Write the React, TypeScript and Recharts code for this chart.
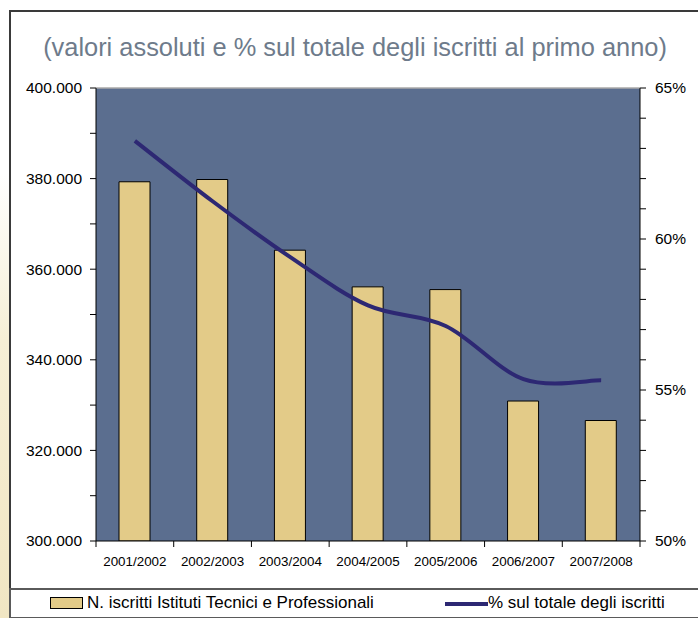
import React from 'react';
import { ComposedChart, Bar, Line, XAxis, YAxis, CartesianGrid, Legend, ReferenceLine } from 'recharts';

const FONT = '"Liberation Sans", Arial, sans-serif';

const years = ['2001/2002', '2002/2003', '2003/2004', '2004/2005', '2005/2006', '2006/2007', '2007/2008'];
const iscritti = [379300, 379800, 364200, 356100, 355500, 330900, 326600];
const percentuali = [63.25, 61.25, 59.4, 57.8, 57.12, 55.36, 55.32];

const leftTicks = [300000, 310000, 320000, 330000, 340000, 350000, 360000, 370000, 380000, 390000, 400000];
const rightTicks = [50, 51, 52, 53, 54, 55, 56, 57, 58, 59, 60, 61, 62, 63, 64, 65];

const title = '(valori assoluti e % sul totale degli iscritti al primo anno)';
const barName = 'N. iscritti Istituti Tecnici e Professionali';
const lineName = '% sul totale degli iscritti';

const data = years.map((year, i) => ({ year, iscritti: iscritti[i], perc: percentuali[i] }));

const BAR_FILL = '#e3cb88';
const LINE_COLOR = '#2d2873';
const PLOT_BG = '#5b6e8f';

// Excel-style smoothed line (Catmull-Rom through the points, as Bezier segments)
const excelSmooth: any = (context: any) => {
  let pts: number[][] = [];
  return {
    areaStart() {},
    areaEnd() {},
    lineStart() {
      pts = [];
    },
    point(x: number, y: number) {
      pts.push([+x, +y]);
    },
    lineEnd() {
      if (!pts.length) return;
      context.moveTo(pts[0][0], pts[0][1]);
      for (let i = 0; i < pts.length - 1; i++) {
        const p0 = pts[i - 1] || pts[i];
        const p1 = pts[i];
        const p2 = pts[i + 1];
        const p3 = pts[i + 2] || p2;
        context.bezierCurveTo(
          p1[0] + (p2[0] - p0[0]) / 6,
          p1[1] + (p2[1] - p0[1]) / 6,
          p2[0] - (p3[0] - p1[0]) / 6,
          p2[1] - (p3[1] - p1[1]) / 6,
          p2[0],
          p2[1]
        );
      }
    },
  };
};

const fmtThousands = (v: number) => `${Math.round(v / 1000)}.000`;

const LeftTick = (props: any) => {
  const { x, y, payload } = props;
  if (payload.value % 20000 !== 0) return <g />;
  return (
    <text x={x} y={y} dx={-6} dy={5.4} textAnchor="end" fontSize={15.5} fontFamily={FONT} fill="#000">
      {fmtThousands(payload.value)}
    </text>
  );
};

const RightTick = (props: any) => {
  const { x, y, payload } = props;
  if (payload.value % 5 !== 0) return <g />;
  return (
    <text x={x} y={y} dx={7} dy={5.4} textAnchor="start" fontSize={15.5} fontFamily={FONT} fill="#000">
      {`${payload.value}%`}
    </text>
  );
};

// category label plus tick marks on the category boundaries (Excel style)
const XTick = (props: any) => {
  const { x, y, payload, index, visibleTicksCount } = props;
  const half = payload && typeof payload.offset === 'number' ? payload.offset : 0;
  return (
    <g>
      {half > 0 && <line x1={x - half} x2={x - half} y1={y} y2={y + 6} stroke="#000" strokeWidth={1} />}
      {half > 0 && index === visibleTicksCount - 1 && (
        <line x1={x + half} x2={x + half} y1={y} y2={y + 6} stroke="#000" strokeWidth={1} />
      )}
      <text x={x} y={y} dy={25.2} textAnchor="middle" fontSize={13.4} fontFamily={FONT} fill="#000">
        {payload.value}
      </text>
    </g>
  );
};

const LegendContent = () => (
  <div style={{ position: 'relative', width: 688, height: 29, fontFamily: FONT, fontSize: 17, color: '#000' }}>
    <div style={{ position: 'absolute', left: 40, top: 8, width: 31, height: 10, background: BAR_FILL, border: '1px solid #000' }} />
    <div style={{ position: 'absolute', left: 77, top: 4, lineHeight: '20px', whiteSpace: 'nowrap' }}>{barName}</div>
    <div style={{ position: 'absolute', left: 435, top: 13, width: 43, height: 4, background: LINE_COLOR }} />
    <div style={{ position: 'absolute', left: 478, top: 4, lineHeight: '20px', whiteSpace: 'nowrap' }}>{lineName}</div>
  </div>
);

export default function App() {
  return (
    <div style={{ position: 'absolute', left: 0, top: 0, width: 698, height: 618, background: '#fff', overflow: 'hidden' }}>
      <div
        style={{
          position: 'absolute', left: 0, top: 0, width: 9, height: 618,
          background: 'linear-gradient(to bottom, #ffffff 0%, #ffffff 28%, #f6efd6 55%, #f1e6c3 100%)',
        }}
      />
      <div style={{ position: 'absolute', left: 9, top: 10, width: 700, height: 620, border: '2px solid #3a3a3a', boxSizing: 'border-box' }} />
      <div
        style={{
          position: 'absolute', left: 10, top: 32, width: 690, textAlign: 'center', fontFamily: FONT,
          fontSize: 25.4, lineHeight: '30px', color: '#6e7b8b', whiteSpace: 'nowrap',
        }}
      >
        {title}
      </div>
      <div style={{ position: 'absolute', left: 0, top: 0 }}>
        <ComposedChart width={698} height={618} data={data} margin={{ top: 88, right: 0, bottom: 29, left: 0 }}>
          <CartesianGrid horizontal={false} vertical={false} fill={PLOT_BG} />
          <XAxis
            dataKey="year"
            height={48}
            axisLine={{ stroke: '#000' }}
            tickLine={false}
            tickSize={0}
            tickMargin={0}
            tick={<XTick />}
            interval={0}
          />
          <YAxis
            width={96}
            domain={[300000, 400000]}
            ticks={leftTicks}
            interval={0}
            allowDataOverflow
            axisLine={{ stroke: '#000' }}
            tickLine={{ stroke: '#000' }}
            tickSize={6}
            tick={<LeftTick />}
          />
          <YAxis
            yAxisId="right"
            orientation="right"
            width={58}
            domain={[50, 65]}
            ticks={rightTicks}
            interval={0}
            allowDataOverflow
            axisLine={{ stroke: '#000' }}
            tickLine={{ stroke: '#000' }}
            tickSize={6}
            tick={<RightTick />}
          />
          <ReferenceLine y={400000} stroke="#a8a8a8" strokeWidth={1.5} />
          <Bar dataKey="iscritti" name={barName} fill={BAR_FILL} stroke="#000" strokeWidth={1} barSize={31} isAnimationActive={false} />
          <Line
            yAxisId="right"
            dataKey="perc"
            name={lineName}
            type={excelSmooth}
            stroke={LINE_COLOR}
            strokeWidth={4}
            dot={false}
            activeDot={false}
            isAnimationActive={false}
          />
          <Legend
            layout="horizontal"
            verticalAlign="middle"
            align="center"
            wrapperStyle={{ top: 589, left: 10, width: 688, height: 29, margin: 0, padding: 0 }}
            content={<LegendContent />}
          />
        </ComposedChart>
      </div>
      <div style={{ position: 'absolute', left: 9, top: 588, width: 700, height: 31, border: '2px solid #5a5a5a', boxSizing: 'border-box', pointerEvents: 'none' }} />
    </div>
  );
}
